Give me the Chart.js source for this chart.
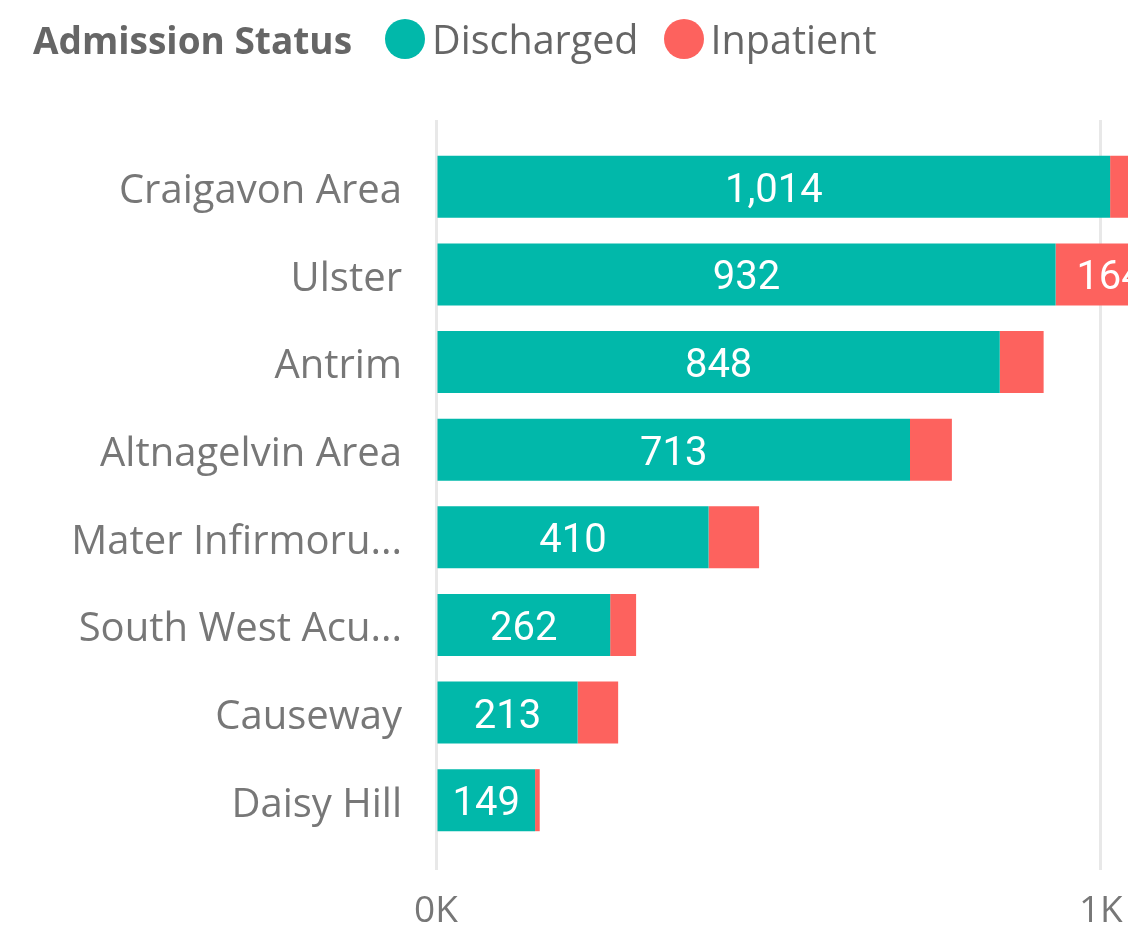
<!DOCTYPE html>
<html><head><meta charset="utf-8">
<script src="https://cdn.jsdelivr.net/npm/chart.js@4.4.1/dist/chart.umd.min.js"></script>
<style>
html,body{margin:0;padding:0;background:#fff;overflow:hidden;width:1128px;height:930px;}
#wrap{position:relative;width:1128px;height:930px;overflow:hidden;}
#legend{position:absolute;left:33px;top:13px;height:52px;display:flex;align-items:center;font-family:"Open Sans",sans-serif;font-size:39.5px;color:#666;white-space:nowrap;}
#legend .title{font-weight:700;font-size:37px;margin-right:33px;}
#legend .item{display:flex;align-items:center;margin-right:25px;}
#legend .dot{width:40px;height:40px;border-radius:50%;margin-right:7px;}
#c{position:absolute;left:0;top:0;}
</style></head>
<body><div id="wrap">
<canvas id="c" width="1300" height="953"></canvas>
<div id="legend"></div>
</div>
<script>
const categories = ["Craigavon Area","Ulster","Antrim","Altnagelvin Area","Mater Infirmoru...","South West Acu...","Causeway","Daisy Hill"];
const discharged = [1014,932,848,713,410,262,213,149];
const inpatient = [150,164,66,63,76,39,61,7];
const seriesNames = ["Discharged","Inpatient"];
const seriesColors = ["#01B8AA","#FD625E"];
const legendTitle = "Admission Status";
const xTickValues = [0,1000];
const xTickLabels = ["0K","1K"];

// HTML legend
const lg = document.getElementById('legend');
const t = document.createElement('span'); t.className='title'; t.textContent = legendTitle; lg.appendChild(t);
seriesNames.forEach((n,i)=>{
  const it=document.createElement('span'); it.className='item';
  const d=document.createElement('span'); d.className='dot'; d.style.background=seriesColors[i];
  const tx=document.createElement('span'); tx.textContent=n;
  it.appendChild(d); it.appendChild(tx); lg.appendChild(it);
});

const gridColor = '#e8e8e8';
const labelFont = {family:"Roboto, sans-serif", size:40};

const dataLabels = {
  id:'dataLabels',
  afterDatasetsDraw(chart){
    const ctx = chart.ctx;
    ctx.save();
    ctx.font = labelFont.size + 'px ' + labelFont.family;
    ctx.fillStyle = '#fff';
    ctx.textAlign = 'center';
    ctx.textBaseline = 'middle';
    chart.data.datasets.forEach((ds, di)=>{
      const meta = chart.getDatasetMeta(di);
      meta.data.forEach((el, i)=>{
        const p = el.getProps(['x','base','y'], true);
        const w = Math.abs(p.x - p.base);
        const txt = ds.data[i].toLocaleString('en-US');
        const tw = ctx.measureText(txt).width;
        if (tw + 10 <= w) ctx.fillText(txt, (p.x + p.base)/2, p.y + 5);
      });
    });
    ctx.restore();
  }
};

const setTicks = s => { s.ticks = xTickValues.map(v=>({value:v})); };

new Chart(document.getElementById('c'), {
  type:'bar',
  data:{
    labels: categories,
    datasets:[
      {label:seriesNames[0], data:discharged, backgroundColor:seriesColors[0], borderWidth:0},
      {label:seriesNames[1], data:inpatient, backgroundColor:seriesColors[1], borderWidth:0}
    ]
  },
  options:{
    indexAxis:'y',
    responsive:false,
    animation:false,
    events:[],
    layout:{padding:{left:0,right:33,top:120,bottom:0}},
    categoryPercentage:0.708,
    barPercentage:1,
    plugins:{legend:{display:false}, tooltip:{enabled:false}},
    scales:{
      x:{
        type:'linear', position:'bottom', stacked:true, min:0, max:1250,
        afterBuildTicks:setTicks,
        grid:{color:gridColor, lineWidth:3, tickLength:26, tickColor:gridColor, drawTicks:true},
        border:{display:false},
        ticks:{font:{family:"Open Sans, sans-serif", size:37, lineHeight:1.0}, color:'#777', padding:23, maxRotation:0,
          callback:(v)=>{ const k=xTickValues.indexOf(v); return k>=0?xTickLabels[k]:''; }}
      },
      x2:{
        axis:'x', type:'linear', position:'top', min:0, max:1250,
        afterBuildTicks:setTicks,
        grid:{color:gridColor, lineWidth:3, tickLength:23, tickColor:gridColor, drawOnChartArea:false},
        border:{display:false},
        ticks:{display:false}
      },
      y:{
        type:'category', stacked:true,
        grid:{display:false}, border:{display:false},
        ticks:{font:{family:"Open Sans, sans-serif", size:40}, color:'#777', padding:26, labelOffset:5},
        afterFit:(s)=>{ s.width = 436; }
      }
    }
  },
  plugins:[dataLabels]
});
</script>
</body></html>
